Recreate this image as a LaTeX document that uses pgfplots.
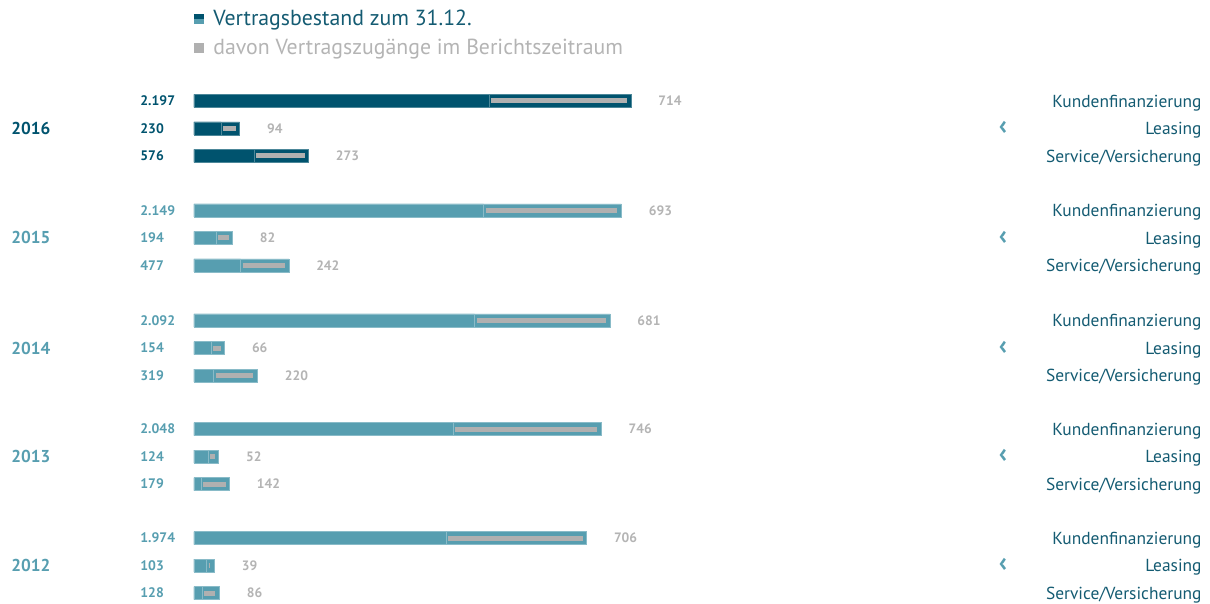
\documentclass[border=0pt]{standalone}
\usepackage{pgfplots}
\pgfplotsset{compat=1.18}
\usepackage{fontspec}
\setmainfont{PT Sans}
\definecolor{vwdark}{HTML}{00536E}
\definecolor{vwlight}{HTML}{579EB0}
\definecolor{vwgrey}{HTML}{B0B0B0}
\definecolor{vwgreytext}{HTML}{B4B4B4}
\definecolor{vwtext}{HTML}{145B72}
\tikzset{lab/.style={inner sep=0pt, text depth=0pt},
  yr/.style={anchor=west, lab, text height=6pt, font=\fontsize{8.6pt}{10pt}\selectfont\bfseries},
  cat/.style={anchor=east, lab, text height=6.1pt, text=vwtext, font=\fontsize{8.7pt}{10pt}\selectfont},
  chev/.style={lab, text height=6.4pt, text=vwlight, font=\fontsize{13.5pt}{15pt}\selectfont\bfseries}}
\begin{document}
\begin{tikzpicture}
\begin{axis}[at={(0,0)}, anchor=south west, scale only axis,
  width=605pt, height=302pt,
  xmin=-975.3, xmax=5108.1, ymin=0, ymax=604, y dir=reverse,
  hide axis, clip=false,
]
% total bars
\addplot[xbar, bar shift=0pt, bar width=6.5pt, fill=vwdark, draw=vwdark!70!white, line width=0.3pt]
  coordinates {(2197,101) (230,128.5) (576,156)};
\addplot[xbar, bar shift=0pt, bar width=6.5pt, fill=vwdark, draw=vwdark!70!white, line width=0.3pt]
  coordinates {(1483,101) (136,128.5) (303,156)};
\addplot[xbar, bar shift=0pt, bar width=6.5pt, fill=vwlight, draw=vwlight!70!white, line width=0.3pt]
  coordinates {(2149,210.5) (194,238) (477,265.5) (2092,320.5) (154,348) (319,375.5)
               (2048,429) (124,456.5) (179,484) (1974,538) (103,565.5) (128,593)};
\addplot[xbar, bar shift=0pt, bar width=6.5pt, fill=vwlight, draw=vwlight!70!white, line width=0.3pt]
  coordinates {(1456,210.5) (112,238) (235,265.5) (1411,320.5) (88,348) (99,375.5)
               (1302,429) (72,456.5) (37,484) (1268,538) (64,565.5) (42,593)};
% new contracts (grey inner bars)
\addplot[vwgrey, line width=2.5pt, mark=none, unbounded coords=jump]
  coordinates {(1493,101) (2177,101) (nan,nan) (146,128.5) (210,128.5) (nan,nan) (313,156) (556,156) (nan,nan)
               (1466,210.5) (2129,210.5) (nan,nan) (122,238) (174,238) (nan,nan) (245,265.5) (457,265.5) (nan,nan)
               (1421,320.5) (2072,320.5) (nan,nan) (98,348) (134,348) (nan,nan) (109,375.5) (299,375.5) (nan,nan)
               (1312,429) (2028,429) (nan,nan) (82,456.5) (104,456.5) (nan,nan) (47,484) (159,484) (nan,nan)
               (1278,538) (1954,538) (nan,nan) (74,565.5) (83,565.5) (nan,nan) (52,593) (108,593)};
% total labels
\addplot[draw=none, mark=none, nodes near coords, point meta=explicit symbolic,
  nodes near coords style={anchor=west, lab, text height=4.9pt, text=vwdark, font=\fontsize{6.9pt}{8pt}\selectfont\bfseries}]
  table[meta=label] {
x y label
-271.5 101 2.197
-271.5 128.5 230
-271.5 156 576
};
\addplot[draw=none, mark=none, nodes near coords, point meta=explicit symbolic,
  nodes near coords style={anchor=west, lab, text height=4.9pt, text=vwlight, font=\fontsize{6.9pt}{8pt}\selectfont\bfseries}]
  table[meta=label] {
x y label
-271.5 210.5 2.149
-271.5 238 194
-271.5 265.5 477
-271.5 320.5 2.092
-271.5 348 154
-271.5 375.5 319
-271.5 429 2.048
-271.5 456.5 124
-271.5 484 179
-271.5 538 1.974
-271.5 565.5 103
-271.5 593 128
};
% new contract labels
\addplot[draw=none, mark=none, nodes near coords, point meta=explicit symbolic,
  nodes near coords style={anchor=west, lab, xshift=13.5pt, text height=4.8pt, text=vwgreytext, font=\fontsize{6.8pt}{8pt}\selectfont\bfseries}]
  table[meta=label] {
x y label
2197 101 714
230 128.5 94
576 156 273
2149 210.5 693
194 238 82
477 265.5 242
2092 320.5 681
154 348 66
319 375.5 220
2048 429 746
124 456.5 52
179 484 142
1974 538 706
103 565.5 39
128 593 86
};
% years
\node[yr, text=vwdark] at (axis cs:-920,128.5) {2016};
\node[yr, text=vwlight] at (axis cs:-920,238) {2015};
\node[yr, text=vwlight] at (axis cs:-920,348) {2014};
\node[yr, text=vwlight] at (axis cs:-920,456.5) {2013};
\node[yr, text=vwlight] at (axis cs:-920,565.5) {2012};
% categories
\node[cat] at (axis cs:5067.6,101) {Kundenfinanzierung};
\node[cat] at (axis cs:5067.6,128.5) {Leasing};
\node[cat] at (axis cs:5067.6,156) {Service/Versicherung};
\node[chev] at (axis cs:4067,128.5) {‹};
\node[cat] at (axis cs:5067.6,210.5) {Kundenfinanzierung};
\node[cat] at (axis cs:5067.6,238) {Leasing};
\node[cat] at (axis cs:5067.6,265.5) {Service/Versicherung};
\node[chev] at (axis cs:4067,238) {‹};
\node[cat] at (axis cs:5067.6,320.5) {Kundenfinanzierung};
\node[cat] at (axis cs:5067.6,348) {Leasing};
\node[cat] at (axis cs:5067.6,375.5) {Service/Versicherung};
\node[chev] at (axis cs:4067,348) {‹};
\node[cat] at (axis cs:5067.6,429) {Kundenfinanzierung};
\node[cat] at (axis cs:5067.6,456.5) {Leasing};
\node[cat] at (axis cs:5067.6,484) {Service/Versicherung};
\node[chev] at (axis cs:4067,456.5) {‹};
\node[cat] at (axis cs:5067.6,538) {Kundenfinanzierung};
\node[cat] at (axis cs:5067.6,565.5) {Leasing};
\node[cat] at (axis cs:5067.6,593) {Service/Versicherung};
\node[chev] at (axis cs:4067,565.5) {‹};
% legend
\node[inner sep=0pt] at (axis cs:25.1,19) {\rlap{\textcolor{vwlight}{\rule[-2.5pt]{5pt}{2.5pt}}}\textcolor{vwdark}{\rule{5pt}{2.5pt}}};
\node[anchor=west, lab, text height=7.7pt, text=vwtext, font=\fontsize{10.9pt}{12pt}\selectfont] at (axis cs:95.5,17.5) {Vertragsbestand zum 31.12.};
\node[inner sep=0pt] at (axis cs:25.1,48) {\textcolor{vwgrey}{\rule[-2.5pt]{5pt}{5pt}}};
\node[anchor=west, lab, text height=7.7pt, text=vwgreytext, font=\fontsize{10.9pt}{12pt}\selectfont] at (axis cs:95.5,47) {davon Vertragszugänge im Berichtszeitraum};
\end{axis}
\pgfresetboundingbox
\path[use as bounding box] (0,0) rectangle (605pt,302pt);
\end{tikzpicture}
\end{document}
